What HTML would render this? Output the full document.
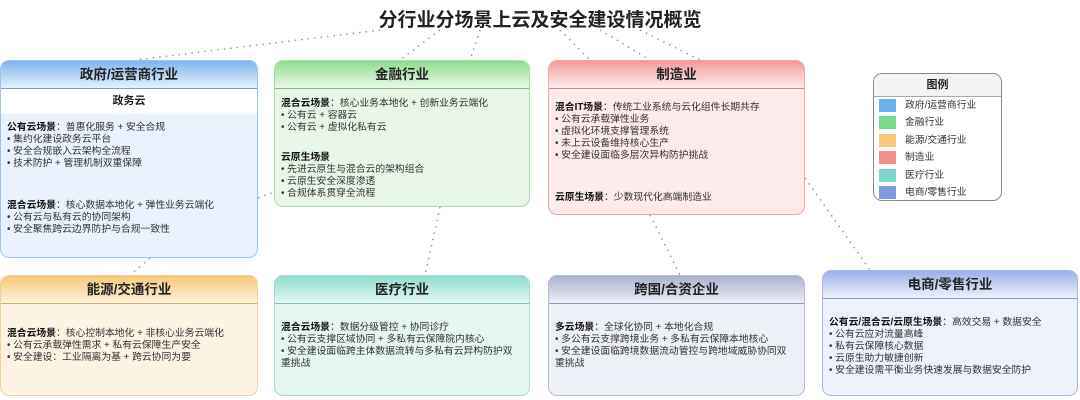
<!DOCTYPE html>
<html><head><meta charset="utf-8"><style>
*{margin:0;padding:0;box-sizing:border-box}
body{width:1080px;height:400px;background:#fff;position:relative;overflow:hidden;font-family:"Liberation Sans","Noto Sans CJK SC",sans-serif;color:#222}
.t{position:absolute;left:0;width:1080px;top:5px;text-align:center;font-size:19px;font-weight:bold}
.box{position:absolute;border:1px solid;border-radius:9px;overflow:hidden}
.h{height:28px;line-height:28px;text-align:center;font-weight:bold;font-size:13.5px;border-bottom:1px solid rgba(0,0,0,.12)}
.b{position:absolute;left:6px;right:4px;font-size:9.8px;line-height:12px;color:#333}
.b b{color:#111}
.lg{position:absolute;left:873px;top:73px;width:129px;height:128px;border:1px solid #888;border-radius:9px;background:#fff;overflow:hidden}
.lg .hh{height:23px;line-height:23px;text-align:center;font-weight:bold;font-size:11px;background:#f4f4f4;border-bottom:1px solid #aaa}
.row{height:17.4px;font-size:9.8px;line-height:17.4px;color:#333;padding-left:31px;position:relative}
.row i{position:absolute;left:5px;top:2px;width:17px;height:13px}
svg{position:absolute;left:0;top:0}
</style></head><body>
<svg width="1080" height="400"><g stroke="#999" stroke-width="1.5" stroke-dasharray="1.5 5" fill="none">
<line x1="380" y1="30" x2="135" y2="60"/><line x1="440" y1="30" x2="400" y2="60"/><line x1="480" y1="30" x2="470" y2="60"/>
<line x1="560" y1="30" x2="590" y2="60"/><line x1="600" y1="30" x2="650" y2="60"/><line x1="640" y1="30" x2="700" y2="60"/>
<line x1="258" y1="198" x2="274" y2="192"/><line x1="440" y1="207" x2="425" y2="275"/><line x1="650" y1="215" x2="680" y2="275"/>
<line x1="805" y1="178" x2="870" y2="270"/><line x1="150" y1="258" x2="130" y2="275"/></g></svg>
<div class="t">分行业分场景上云及安全建设情况概览</div>

<div class="box" style="left:0;top:60px;width:258px;height:198px;border-color:#9ec3e8;background:#e9f2fc">
<div class="h" style="background:linear-gradient(#7fb4ec,#e6f1fc)">政府/运营商行业</div>
<div style="height:25px;line-height:25px;text-align:center;font-weight:bold;font-size:11px;background:#fff">政务云</div>
<div class="b" style="top:61px"><b>公有云场景</b>：普惠化服务 + 安全合规<br>• 集约化建设政务云平台<br>• 安全合规嵌入云架构全流程<br>• 技术防护 + 管理机制双重保障</div>
<div class="b" style="top:139px"><b>混合云场景</b>：核心数据本地化 + 弹性业务云端化<br>• 公有云与私有云的协同架构<br>• 安全聚焦跨云边界防护与合规一致性</div>
</div>

<div class="box" style="left:274px;top:60px;width:256px;height:147px;border-color:#a8dca8;background:#e8f6e8">
<div class="h" style="background:linear-gradient(#8edb8e,#eaf8ea)">金融行业</div>
<div class="b" style="top:37px"><b>混合云场景</b>：核心业务本地化 + 创新业务云端化<br>• 公有云 + 容器云<br>• 公有云 + 虚拟化私有云</div>
<div class="b" style="top:91px"><b>云原生场景</b><br>• 先进云原生与混合云的架构组合<br>• 云原生安全深度渗透<br>• 合规体系贯穿全流程</div>
</div>

<div class="box" style="left:548px;top:60px;width:257px;height:155px;border-color:#eaa8a8;background:#fdeaea">
<div class="h" style="background:linear-gradient(#f29a9a,#fdeeee)">制造业</div>
<div class="b" style="top:41px"><b>混合IT场景</b>：传统工业系统与云化组件长期共存<br>• 公有云承载弹性业务<br>• 虚拟化环境支撑管理系统<br>• 未上云设备维持核心生产<br>• 安全建设面临多层次异构防护挑战</div>
<div class="b" style="top:131px"><b>云原生场景</b>：少数现代化高端制造业</div>
</div>

<div class="lg"><div class="hh">图例</div>
<div class="row"><i style="background:#6ab2ef"></i>政府/运营商行业</div>
<div class="row"><i style="background:#78d98a"></i>金融行业</div>
<div class="row"><i style="background:#f7c97e"></i>能源/交通行业</div>
<div class="row"><i style="background:#f4928a"></i>制造业</div>
<div class="row"><i style="background:#7fd6cc"></i>医疗行业</div>
<div class="row"><i style="background:#7f9be0"></i>电商/零售行业</div>
</div>

<div class="box" style="left:0;top:275px;width:258px;height:121px;border-color:#f0d29a;background:#fdf3e2">
<div class="h" style="background:linear-gradient(#f6c87a,#fdf2df)">能源/交通行业</div>
<div class="b" style="top:52px"><b>混合云场景</b>：核心控制本地化 + 非核心业务云端化<br>• 公有云承载弹性需求 + 私有云保障生产安全<br>• 安全建设：工业隔离为基 + 跨云协同为要</div>
</div>

<div class="box" style="left:274px;top:275px;width:256px;height:121px;border-color:#a6dcd2;background:#e4f5f2">
<div class="h" style="background:linear-gradient(#8fdccf,#e6f7f4)">医疗行业</div>
<div class="b" style="top:46px"><b>混合云场景</b>：数据分级管控 + 协同诊疗<br>• 公有云支撑区域协同 + 多私有云保障院内核心<br>• 安全建设面临跨主体数据流转与多私有云异构防护双<br>重挑战</div>
</div>

<div class="box" style="left:548px;top:275px;width:257px;height:121px;border-color:#b4bcd8;background:#eef0f8">
<div class="h" style="background:linear-gradient(#a8b0cc,#eef0f8)">跨国/合资企业</div>
<div class="b" style="top:46px"><b>多云场景</b>：全球化协同 + 本地化合规<br>• 多公有云支撑跨境业务 + 多私有云保障本地核心<br>• 安全建设面临跨境数据流动管控与跨地域威胁协同双<br>重挑战</div>
</div>

<div class="box" style="left:822px;top:270px;width:256px;height:126px;border-color:#a8b8e4;background:#edf1fb">
<div class="h" style="background:linear-gradient(#9bb0e8,#eef2fc)">电商/零售行业</div>
<div class="b" style="top:46px"><b>公有云/混合云/云原生场景</b>：高效交易 + 数据安全<br>• 公有云应对流量高峰<br>• 私有云保障核心数据<br>• 云原生助力敏捷创新<br>• 安全建设需平衡业务快速发展与数据安全防护</div>
</div>
</body></html>
